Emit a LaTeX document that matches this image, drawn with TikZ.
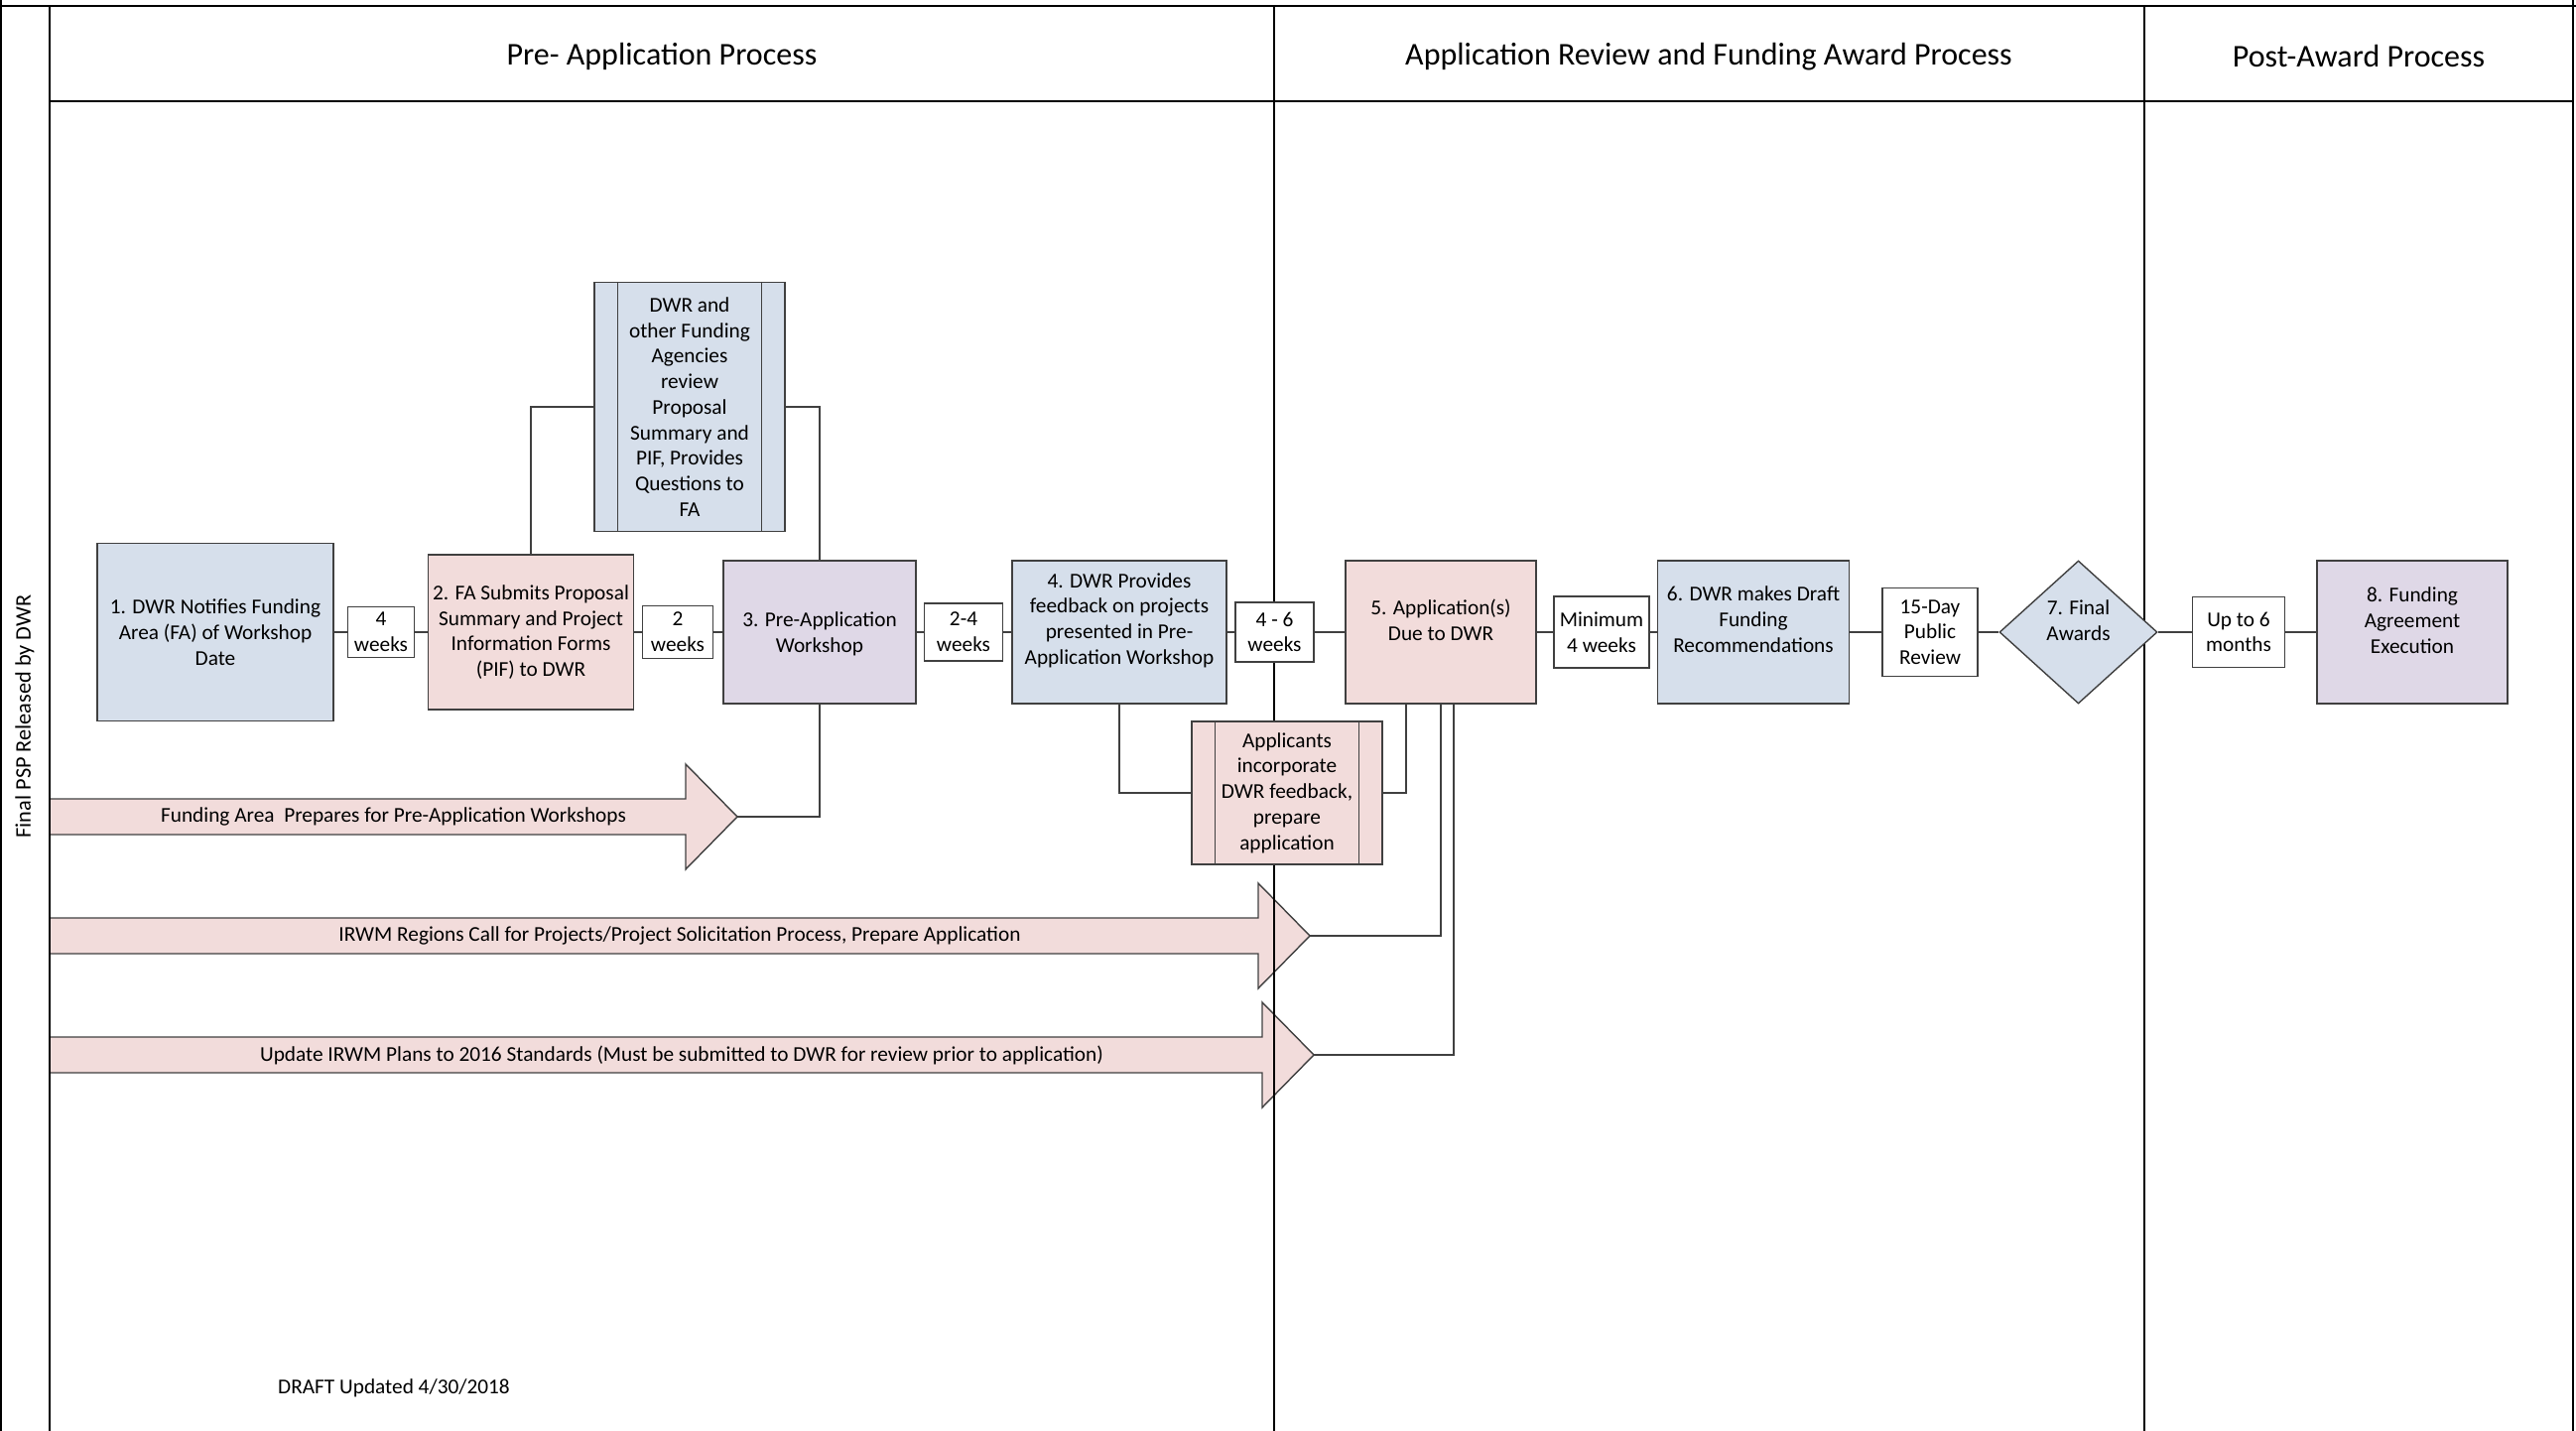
\documentclass[tikz,border=0pt]{standalone}
\usepackage{fontspec}
\setmainfont{Carlito}
\usepackage{tikz}
\usetikzlibrary{calc}
\usetikzlibrary{shapes}

\definecolor{stepblue}{RGB}{214,223,235}
\definecolor{steppink}{RGB}{242,220,219}
\definecolor{steplilac}{RGB}{223,216,231}
\definecolor{edgegray}{RGB}{64,64,64}

\newcommand{\stepfont}{\fontsize{21.3}{25.7}\selectfont}
\newcommand{\lanefont}{\fontsize{32}{38}\selectfont}
\newcommand{\sidefont}{\fontsize{22.3}{26}\selectfont}

\newcommand{\stepbox}[8]{ \node[procbox, fill=#6, minimum width=#4pt, minimum height=#5pt] (#1) at ( #2 , #3 ) {};
  \node[bodytext] (#1-t) at ( #2 , #3-#7 ) {#8};}
\newcommand{\waitbox}[6]{ \node[durbox, minimum width=#4pt, minimum height=#5pt] (#1) at ( #2 , #3 ) {#6};}
\newcommand{\blockarrow}[4]{ \filldraw[arrowbody] (50,#2-18) -- (#3-52,#2-18) -- (#3-52,#2-53) -- (#3,#2)
    -- (#3-52,#2+53) -- (#3-52,#2+18) -- (50,#2+18);
  \coordinate (#1) at ( #3 , #2 );
  \node[bodytext] (#1-t) at ( {(50+#3)/2} , #2 ) {#4};}

\begin{document}
\begin{tikzpicture}[x=1pt, y=-1pt,
    lane/.style={line width=2.5pt, black},
    link/.style={line width=1.4pt, edgegray},
    rim/.style={line width=1.4pt, edgegray},
    procbox/.style={draw=edgegray, line width=1.4pt, inner sep=2pt},
    durbox/.style={draw=edgegray, line width=1.4pt, fill=white, inner sep=2pt, align=center, font=\stepfont},
    bodytext/.style={align=center, font=\stepfont, inner sep=0pt},
    arrowbody/.style={fill=steppink, draw=edgegray, line width=1.4pt}]
    \useasboundingbox (0,0) rectangle (2596,1442);

    % long running tasks
    \blockarrow{a1}{823}{743}{Funding Area\ \ Prepares for Pre-Application Workshops}
    \blockarrow{a2}{943}{1320}{IRWM Regions Call for Projects/Project Solicitation Process, Prepare Application}
    \blockarrow{a3}{1063}{1324}{Update IRWM Plans to 2016 Standards (Must be submitted to DWR for review prior to application)}

    % pool and lanes
    \draw[lane] (1,0) -- (1,1442);
    \draw[lane] (2593,0) -- (2593,1442);
    \draw[lane] (0,6) -- (2596,6);
    \draw[lane] (50,102) -- (2593,102);
    \draw[lane] (50,6) -- (50,1442);
    \draw[lane] (1284,6) -- (1284,1442);
    \draw[lane] (2161,6) -- (2161,1442);

    \node[font=\lanefont] (h1) at (667,57) {Pre- Application Process};
    \node[font=\lanefont] (h2) at (1722,57) {Application Review and Funding Award Process};
    \node[font=\lanefont] (h3) at (2377,57) {Post-Award Process};
    \node[font=\sidefont, rotate=90] (side) at (25,722) {Final PSP Released by DWR};

    % main row
    \stepbox{s1}{217}{637}{238}{179}{stepblue}{0}{1. DWR Notifies Funding\\Area (FA) of Workshop\\Date}
    \waitbox{d1}{384}{637}{67}{51}{4\\weeks}
    \stepbox{s2}{535}{637}{207}{156}{steppink}{0}{2. FA Submits Proposal\\Summary and Project\\Information Forms\\(PIF) to DWR}
    \waitbox{d2}{683}{637}{71}{53}{2\\weeks}
    \stepbox{s3}{826}{637}{194}{144}{steplilac}{-2}{3. Pre-Application\\Workshop}
    \waitbox{d3}{971}{637}{79}{58}{2-4\\weeks}
    \stepbox{s4}{1128}{637}{216}{144}{stepblue}{12}{4. DWR Provides\\feedback on projects\\presented in Pre-\\Application Workshop}
    \waitbox{d4}{1284.5}{637}{79}{60}{4 - 6\\weeks}
    \stepbox{s5}{1452}{637}{192}{144}{steppink}{12}{5. Application(s)\\Due to DWR}
    \waitbox{d5}{1614}{637}{96}{72}{Minimum\\4 weeks}
    \stepbox{s6}{1767}{637}{193}{144}{stepblue}{13}{6. DWR makes Draft\\Funding\\Recommendations}
    \waitbox{d6}{1945}{637}{96}{89}{15-Day\\Public\\Review}
    \node[procbox, diamond, fill=stepblue, minimum width=159pt, minimum height=144pt] (s7) at (2094.5,637) {};
    \node[bodytext] (s7-t) at (2094.5,625) {7. Final\\Awards};
    \waitbox{d7}{2256}{637}{93}{71}{Up to 6\\months}
    \stepbox{s8}{2431}{637}{192}{144}{steplilac}{12}{8. Funding\\Agreement\\Execution}

    % side processes
    \stepbox{rev}{695}{410}{192}{251}{stepblue}{0}{DWR and\\other Funding\\Agencies\\review\\Proposal\\Summary and\\PIF, Provides\\Questions to\\FA}
    \draw[rim] ([xshift=24pt]rev.north west) -- ([xshift=24pt]rev.south west);
    \draw[rim] ([xshift=-24pt]rev.north east) -- ([xshift=-24pt]rev.south east);
    \stepbox{app}{1297}{799}{192}{144}{steppink}{0}{Applicants\\incorporate\\DWR feedback,\\prepare\\application}
    \draw[rim] ([xshift=24pt]app.north west) -- ([xshift=24pt]app.south west);
    \draw[rim] ([xshift=-24pt]app.north east) -- ([xshift=-24pt]app.south east);

    % connectors
    \foreach \a/\b in {s1/d1, d1/s2, s2/d2, d2/s3, s3/d3, d3/s4, s4/d4, d4/s5, s5/d5, d5/s6, s6/d6, d6/s7, s7/d7, d7/s8}
        \draw[link] (\a.east) -- (\b.west);
    \draw[link] (s2.north) |- (rev.west);
    \draw[link] (rev.east) -| (s3.north);
    \draw[link] (s4.south) |- (app.west);
    \draw[link] (app.east) -| ($(s5.south)+(-35,0)$);
    \draw[link] (s3.south) |- (a1);
    \draw[link] (s5.south) |- (a2);
    \draw[link] ($(s5.south)+(13,0)$) |- (a3);

    \node[bodytext] (stamp) at (397,1399) {DRAFT Updated 4/30/2018};
\end{tikzpicture}
\end{document}
